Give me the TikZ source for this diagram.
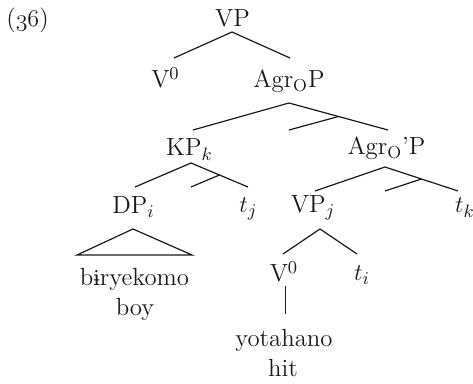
\documentclass[tikz,border=0pt]{standalone}
\usepackage{fontspec}
\usepackage{xcolor}
\usetikzlibrary{calc}
\newfontfamily\ipafont{DejaVu Serif}[Scale=0.82]
\definecolor{tdark}{HTML}{1a1a1a}

\begin{document}
\begin{tikzpicture}[x=0.5pt,y=-0.5pt,
		lbl/.style={inner sep=0pt, anchor=base, text=tdark, font=\fontsize{12.4}{15}\selectfont},
		branch/.style={color=tdark, line width=0.6pt}]
		\useasboundingbox (0,0) rectangle (473,384);
		% labels
		\node[lbl] (num)   at (27.5,27)  {($\mathnormal{36}$)};
		\node[lbl] (vp)    at (232.5,27) {VP};
		\node[lbl] (v)     at (165.5,88) {V$^0$};
		\node[lbl] (agrop) at (289,88)   {Agr$_{\mathrm{O}}$P};
		\node[lbl] (kp)    at (189.5,156) {KP$_k$};
		\node[lbl] (agrob) at (386.5,155) {Agr$_{\mathrm{O}}$’P};
		\node[lbl] (dp)    at (133.5,214) {DP$_i$};
		\node[lbl] (tj)    at (248.5,213) {$t_j$};
		\node[lbl] (vpj)   at (313,213)  {VP$_j$};
		\node[lbl] (tk)    at (465,213)  {$t_k$};
		\node[lbl] (vlow)  at (284,282)  {V$^0$};
		\node[lbl] (ti)    at (362,281)  {$t_i$};
		\node[lbl] (boyw)  at (134.5,286) {b{\ipafont ɨ}ryekomo};
		\node[lbl] (boy)   at (135,316)  {boy};
		\node[lbl] (hitw)  at (284,347)  {yotahano};
		\node[lbl] (hit)   at (283,377)  {hit};
		% branch points
		\coordinate (A)  at (232,32);
		\coordinate (A1) at (174,58);
		\coordinate (A2) at (290,58);
		\coordinate (B)  at (289,103);
		\coordinate (B1) at (193,130);
		\coordinate (B2) at (388,130);
		\coordinate (C)  at (191,163);
		\coordinate (C1) at (135,187);
		\coordinate (C2) at (248,187);
		\coordinate (D)  at (385,167);
		\coordinate (D1) at (315,191);
		\coordinate (D2) at (458,191);
		\coordinate (E)  at (320,229);
		\coordinate (E1) at (283,254);
		\coordinate (E2) at (357,254);
		\coordinate (F)  at (133,229);
		\coordinate (F1) at (77,255);
		\coordinate (F2) at (192,255);
		\coordinate (G1) at (285.3,286);
		\coordinate (G2) at (285.3,314);
		\draw[branch] (A1) -- (A) -- (A2);
		\draw[branch] (B1) -- (B) -- (B2);
		\draw[branch] ($(B)!0.5!(B2)$) -- (B |- B2);
		\draw[branch] (C1) -- (C) -- (C2);
		\draw[branch] ($(C)!0.5!(C2)$) -- (C |- C2);
		\draw[branch] (D1) -- (D) -- (D2);
		\draw[branch] ($(D)!0.5!(D2)$) -- (D |- D2);
		\draw[branch] (E1) -- (E) -- (E2);
		\draw[branch] (F1) -- (F) -- (F2) -- cycle;
		\draw[branch] (G1) -- (G2);
	\end{tikzpicture}
\end{document}
